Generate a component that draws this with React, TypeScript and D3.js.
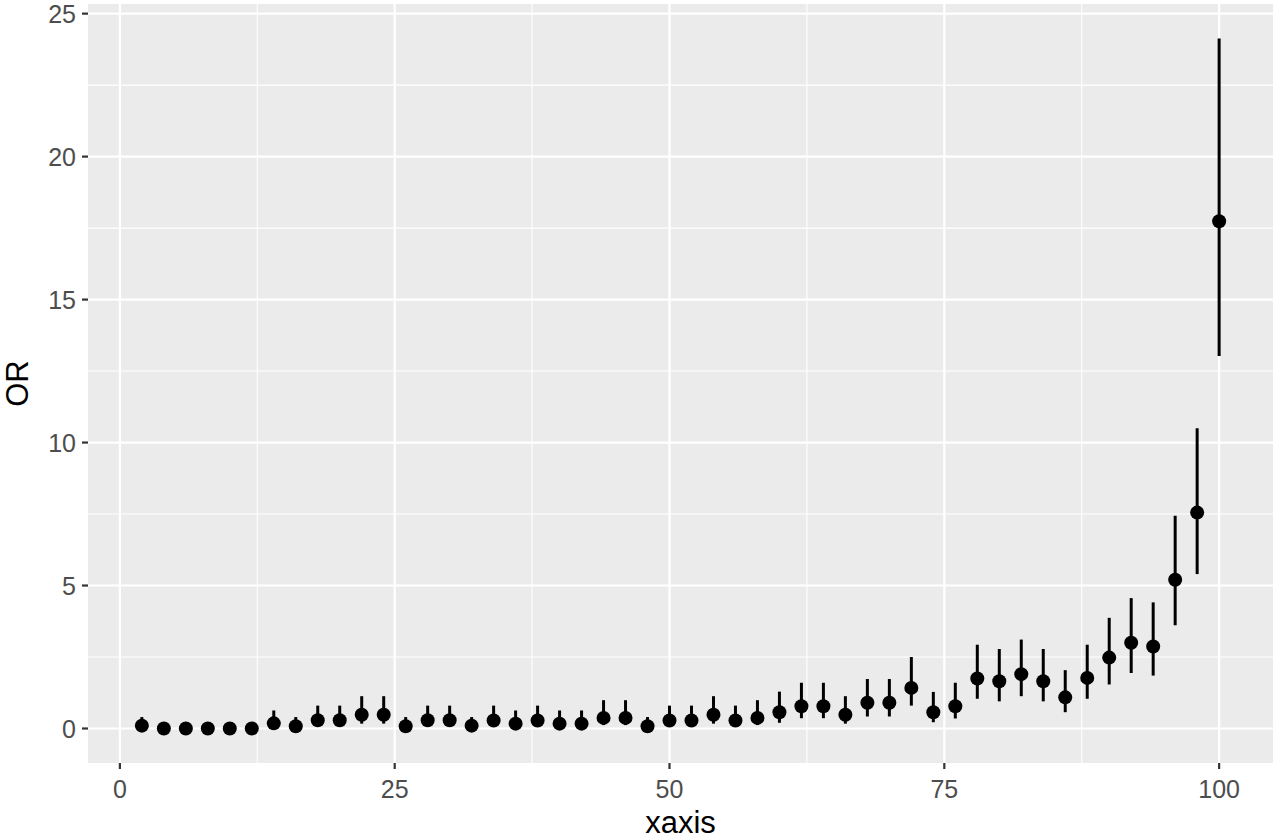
import React, { useEffect, useRef } from 'react';
import * as d3 from 'd3';

// x position of each estimate
const xaxis = [2, 4, 6, 8, 10, 12, 14, 16, 18, 20, 22, 24, 26, 28, 30, 32, 34, 36, 38, 40, 42, 44, 46, 48, 50,
  52, 54, 56, 58, 60, 62, 64, 66, 68, 70, 72, 74, 76, 78, 80, 82, 84, 86, 88, 90, 92, 94, 96, 98, 100];

// odds ratio point estimates
const OR = [0.1, 0, 0, 0, 0, 0, 0.18, 0.08, 0.29, 0.29, 0.48, 0.48, 0.08, 0.29, 0.29, 0.1, 0.28, 0.17, 0.28, 0.17,
  0.17, 0.37, 0.37, 0.08, 0.28, 0.28, 0.48, 0.28, 0.37, 0.57, 0.78, 0.78, 0.48, 0.9, 0.9, 1.42, 0.57, 0.78, 1.75, 1.65,
  1.9, 1.65, 1.09, 1.77, 2.48, 3.0, 2.87, 5.2, 7.55, 17.74];

// lower / upper interval bounds
const lower = [0.02, 0, 0, 0, 0, 0, 0.05, 0.02, 0.1, 0.1, 0.17, 0.17, 0.02, 0.1, 0.1, 0.02, 0.1, 0.05, 0.1, 0.05,
  0.05, 0.12, 0.12, 0.02, 0.1, 0.1, 0.17, 0.1, 0.12, 0.2, 0.36, 0.36, 0.17, 0.42, 0.42, 0.8, 0.22, 0.35, 1.04, 0.95,
  1.13, 0.95, 0.57, 1.04, 1.54, 1.94, 1.85, 3.61, 5.4, 13.03];

const upper = [0.4, 0.05, 0.03, 0.03, 0.03, 0.03, 0.63, 0.4, 0.8, 0.8, 1.13, 1.13, 0.4, 0.8, 0.8, 0.4, 0.8, 0.63, 0.8, 0.63,
  0.63, 0.99, 0.99, 0.4, 0.8, 0.8, 1.13, 0.8, 0.99, 1.29, 1.6, 1.6, 1.13, 1.73, 1.73, 2.5, 1.28, 1.6, 2.93, 2.78,
  3.11, 2.78, 2.04, 2.93, 3.87, 4.56, 4.41, 7.44, 10.5, 24.13];

const xTicks = [0, 25, 50, 75, 100];
const xMinor = [12.5, 37.5, 62.5, 87.5];
const yTicks = [0, 5, 10, 15, 20, 25];
const yMinor = [2.5, 7.5, 12.5, 17.5, 22.5];

function App() {
  const svgRef = useRef<SVGSVGElement>(null);

  useEffect(() => {
    const width = 1280;
    const height = 840;
    const panel = { left: 88, right: 1273, top: 4, bottom: 763 };
    const font = '"Liberation Sans", Arial, Helvetica, sans-serif';

    const svg = d3.select(svgRef.current)
      .attr('width', width)
      .attr('height', height);
    svg.selectAll('*').remove();

    const rows = xaxis.map((x, i) => ({ x, or: OR[i], lo: lower[i], hi: upper[i] }));

    // ggplot-like 5% expansion
    const xMin = d3.min(xaxis)!, xMax = d3.max(xaxis)!;
    const xPad = (xMax - xMin) * 0.05;
    const yMin = d3.min(lower)!, yMax = d3.max(upper)!;
    const yPad = (yMax - yMin) * 0.05;

    const xScale = d3.scaleLinear()
      .domain([xMin - xPad, xMax + xPad])
      .range([panel.left, panel.right]);
    const yScale = d3.scaleLinear()
      .domain([yMin - yPad, yMax + yPad])
      .range([panel.bottom, panel.top]);

    // panel background
    svg.append('rect')
      .attr('x', panel.left)
      .attr('y', panel.top)
      .attr('width', panel.right - panel.left)
      .attr('height', panel.bottom - panel.top)
      .attr('fill', '#EBEBEB');

    // minor grid
    svg.append('g').selectAll('line')
      .data(yMinor)
      .enter().append('line')
      .attr('x1', panel.left).attr('x2', panel.right)
      .attr('y1', d => yScale(d)).attr('y2', d => yScale(d))
      .attr('stroke', '#fff').attr('stroke-width', 1.1);
    svg.append('g').selectAll('line')
      .data(xMinor)
      .enter().append('line')
      .attr('y1', panel.top).attr('y2', panel.bottom)
      .attr('x1', d => xScale(d)).attr('x2', d => xScale(d))
      .attr('stroke', '#fff').attr('stroke-width', 1.1);

    // major grid
    svg.append('g').selectAll('line')
      .data(yTicks)
      .enter().append('line')
      .attr('x1', panel.left).attr('x2', panel.right)
      .attr('y1', d => yScale(d)).attr('y2', d => yScale(d))
      .attr('stroke', '#fff').attr('stroke-width', 2.2);
    svg.append('g').selectAll('line')
      .data(xTicks)
      .enter().append('line')
      .attr('y1', panel.top).attr('y2', panel.bottom)
      .attr('x1', d => xScale(d)).attr('x2', d => xScale(d))
      .attr('stroke', '#fff').attr('stroke-width', 2.2);

    // error bars
    svg.append('g').selectAll('line')
      .data(rows)
      .enter().append('line')
      .attr('x1', d => xScale(d.x)).attr('x2', d => xScale(d.x))
      .attr('y1', d => yScale(d.lo)).attr('y2', d => yScale(d.hi))
      .attr('stroke', '#000').attr('stroke-width', 3);

    // points
    svg.append('g').selectAll('circle')
      .data(rows)
      .enter().append('circle')
      .attr('cx', d => xScale(d.x))
      .attr('cy', d => yScale(d.or))
      .attr('r', 7)
      .attr('fill', '#000');

    // axis ticks
    svg.append('g').selectAll('line')
      .data(yTicks)
      .enter().append('line')
      .attr('x1', panel.left - 6).attr('x2', panel.left)
      .attr('y1', d => yScale(d)).attr('y2', d => yScale(d))
      .attr('stroke', '#333').attr('stroke-width', 2.2);
    svg.append('g').selectAll('line')
      .data(xTicks)
      .enter().append('line')
      .attr('y1', panel.bottom).attr('y2', panel.bottom + 6)
      .attr('x1', d => xScale(d)).attr('x2', d => xScale(d))
      .attr('stroke', '#333').attr('stroke-width', 2.2);

    // tick labels
    svg.append('g').selectAll('text')
      .data(yTicks)
      .enter().append('text')
      .attr('x', panel.left - 12)
      .attr('y', d => yScale(d))
      .attr('dy', '0.36em')
      .attr('text-anchor', 'end')
      .attr('font-family', font)
      .attr('font-size', '25px')
      .attr('fill', '#4D4D4D')
      .text(d => d);
    svg.append('g').selectAll('text')
      .data(xTicks)
      .enter().append('text')
      .attr('x', d => xScale(d))
      .attr('y', 798)
      .attr('text-anchor', 'middle')
      .attr('font-family', font)
      .attr('font-size', '25px')
      .attr('fill', '#4D4D4D')
      .text(d => d);

    // axis titles
    svg.append('text')
      .attr('x', (panel.left + panel.right) / 2)
      .attr('y', 833)
      .attr('text-anchor', 'middle')
      .attr('font-family', font)
      .attr('font-size', '31px')
      .attr('fill', '#000')
      .text('xaxis');

    svg.append('text')
      .attr('transform', `translate(28,${(panel.top + panel.bottom) / 2}) rotate(-90)`)
      .attr('text-anchor', 'middle')
      .attr('font-family', font)
      .attr('font-size', '31px')
      .attr('fill', '#000')
      .text('OR');
  }, []);

  return (
    <svg ref={svgRef} style={{ position: 'absolute', left: 0, top: 0, background: '#fff' }}></svg>
  );
}

export default App;
